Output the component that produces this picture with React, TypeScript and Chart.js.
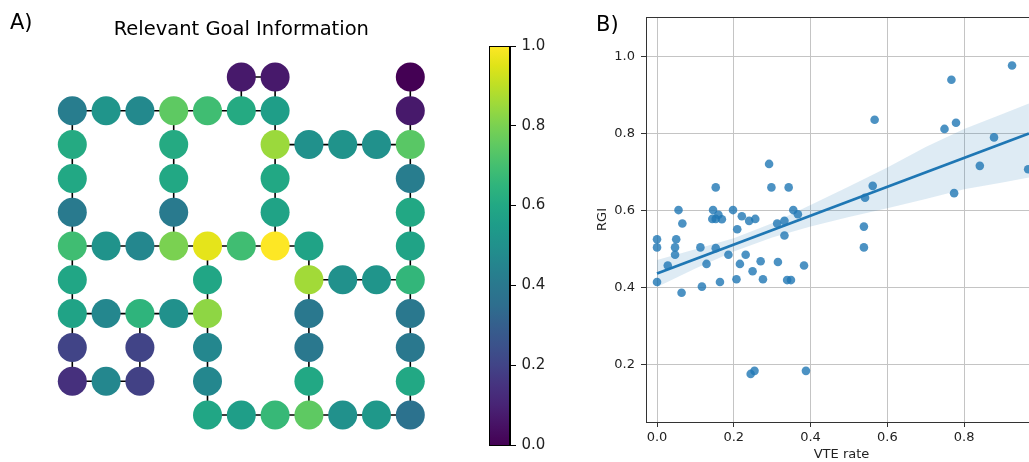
import React, { useEffect, useRef } from 'react';
import { Chart, registerables } from 'chart.js';

Chart.register(...registerables);
Chart.defaults.font.family = 'DejaVu Sans';

// ---------- Panel A: grid graph (row, column, value) ----------
const nodeRow = [
  0, 0, 0,
  1, 1, 1, 1, 1, 1, 1, 1,
  2, 2, 2, 2, 2, 2, 2,
  3, 3, 3, 3,
  4, 4, 4, 4,
  5, 5, 5, 5, 5, 5, 5, 5, 5,
  6, 6, 6, 6, 6, 6,
  7, 7, 7, 7, 7, 7, 7,
  8, 8, 8, 8, 8,
  9, 9, 9, 9, 9, 9,
  10, 10, 10, 10, 10, 10, 10,
];
const nodeCol = [
  5, 6, 10,
  0, 1, 2, 3, 4, 5, 6, 10,
  0, 3, 6, 7, 8, 9, 10,
  0, 3, 6, 10,
  0, 3, 6, 10,
  0, 1, 2, 3, 4, 5, 6, 7, 10,
  0, 4, 7, 8, 9, 10,
  0, 1, 2, 3, 4, 7, 10,
  0, 2, 4, 7, 10,
  0, 1, 2, 4, 7, 10,
  4, 5, 6, 7, 8, 9, 10,
];
const nodeValue = [
  0.07, 0.07, 0.0,
  0.42, 0.52, 0.47, 0.75, 0.69, 0.61, 0.56, 0.07,
  0.61, 0.61, 0.85, 0.5, 0.51, 0.5, 0.74,
  0.6, 0.6, 0.6, 0.42,
  0.41, 0.41, 0.58, 0.6,
  0.69, 0.51, 0.46, 0.8, 0.96, 0.69, 1.0, 0.58, 0.58,
  0.59, 0.59, 0.86, 0.5, 0.52, 0.66,
  0.58, 0.46, 0.65, 0.5, 0.83, 0.4, 0.4,
  0.2, 0.2, 0.46, 0.4, 0.4,
  0.14, 0.46, 0.19, 0.46, 0.6, 0.6,
  0.59, 0.56, 0.67, 0.75, 0.5, 0.53, 0.37,
];
const colorbarTicks = [0, 0.2, 0.4, 0.6, 0.8, 1.0];

// ---------- Panel B: scatter + regression ----------
const vteRate = [
  0.153, 0.298, 0.343, 0.056, 0.146, 0.198, 0.355, 0.160, 0.144, 0.153,
  0.169, 0.221, 0.240, 0.256, 0.367, 0.313, 0.332, 0.066, 0.209, 0.332,
  0.000, 0.000, 0.050, 0.047, 0.047, 0.113, 0.153, 0.028, 0.129, 0.186,
  0.216, 0.231, 0.270, 0.315, 0.383, 0.249, 0.000, 0.117, 0.164, 0.207,
  0.276, 0.339, 0.349, 0.064, 0.292, 0.244, 0.254, 0.388, 0.567, 0.767,
  0.925, 0.749, 0.779, 0.878, 0.841, 0.967, 0.774, 0.562, 0.542, 0.539,
  0.539,
];
const rgi = [
  0.660, 0.660, 0.660, 0.601, 0.601, 0.601, 0.601, 0.589, 0.578, 0.578,
  0.577, 0.585, 0.573, 0.578, 0.590, 0.566, 0.573, 0.566, 0.551, 0.535,
  0.525, 0.504, 0.525, 0.504, 0.485, 0.504, 0.502, 0.457, 0.461, 0.485,
  0.461, 0.485, 0.468, 0.466, 0.457, 0.442, 0.414, 0.402, 0.414, 0.421,
  0.421, 0.419, 0.419, 0.386, 0.721, 0.175, 0.183, 0.183, 0.836, 0.940,
  0.977, 0.812, 0.828, 0.790, 0.716, 0.707, 0.645, 0.664, 0.633, 0.558,
  0.504,
];
const fitX = [0, 0.969];
const fitY = [0.436, 0.800];
const bandX = [0, 0.1, 0.2, 0.3, 0.4, 0.5, 0.6, 0.7, 0.8, 0.9, 0.969];
const bandUpper = [0.471, 0.499, 0.528, 0.567, 0.614, 0.662, 0.712, 0.765, 0.812, 0.851, 0.878];
const bandLower = [0.401, 0.449, 0.493, 0.530, 0.558, 0.583, 0.606, 0.630, 0.655, 0.673, 0.686];
const xTicks = [0, 0.2, 0.4, 0.6, 0.8];
const yTicks = [0.2, 0.4, 0.6, 0.8, 1.0];

// viridis colormap stops (0..1 in steps of 0.05)
const VIRIDIS = [
  '#440154', '#471265', '#482475', '#46337f', '#414487', '#3b528b', '#355f8d',
  '#2e6e8e', '#2a788e', '#25848e', '#21918c', '#1e9c89', '#22a884', '#2fb47c',
  '#44bf70', '#5ec962', '#7ad151', '#9bd93c', '#bddf26', '#dfe318', '#fde725',
];
function hexRgb(h: string) {
  return [parseInt(h.slice(1, 3), 16), parseInt(h.slice(3, 5), 16), parseInt(h.slice(5, 7), 16)];
}
function viridis(v: number) {
  const t = Math.max(0, Math.min(1, v)) * (VIRIDIS.length - 1);
  const i = Math.min(VIRIDIS.length - 2, Math.floor(t));
  const f = t - i;
  const a = hexRgb(VIRIDIS[i]);
  const b = hexRgb(VIRIDIS[i + 1]);
  const c = a.map((x, k) => Math.round(x + (b[k] - x) * f));
  return `rgb(${c[0]},${c[1]},${c[2]})`;
}

const topSpine = {
  id: 'topSpine',
  afterDraw(chart: any) {
    const { ctx, chartArea } = chart;
    ctx.save();
    ctx.strokeStyle = '#333';
    ctx.lineWidth = 1;
    ctx.beginPath();
    ctx.moveTo(chartArea.left, Math.round(chartArea.top) + 0.5);
    ctx.lineTo(chartArea.right, Math.round(chartArea.top) + 0.5);
    ctx.stroke();
    ctx.restore();
  },
};

const colorbarPlugin = {
  id: 'colorbarFill',
  beforeDatasetsDraw(chart: any) {
    const { ctx, chartArea, scales } = chart;
    const y = scales.y;
    const g = ctx.createLinearGradient(0, y.getPixelForValue(0), 0, y.getPixelForValue(1));
    VIRIDIS.forEach((c, i) => g.addColorStop(i / (VIRIDIS.length - 1), c));
    ctx.save();
    ctx.fillStyle = g;
    ctx.fillRect(chartArea.left, chartArea.top, chartArea.right - chartArea.left, chartArea.bottom - chartArea.top);
    ctx.restore();
  },
  afterDraw(chart: any) {
    const { ctx, chartArea } = chart;
    ctx.save();
    ctx.strokeStyle = '#000';
    ctx.lineWidth = 1;
    ctx.strokeRect(
      Math.round(chartArea.left) + 0.5,
      Math.round(chartArea.top) + 0.5,
      Math.round(chartArea.right - chartArea.left) - 1,
      Math.round(chartArea.bottom - chartArea.top)
    );
    ctx.restore();
  },
};

export default function App() {
  const graphRef = useRef<HTMLCanvasElement>(null);
  const cbRef = useRef<HTMLCanvasElement>(null);
  const scRef = useRef<HTMLCanvasElement>(null);

  useEffect(() => {
    const nodes = nodeRow.map((r, i) => ({ x: nodeCol[i], y: r }));
    const colors = nodeValue.map(viridis);
    const edgeSets: any[] = [];
    for (let i = 0; i < nodes.length; i++) {
      for (let j = i + 1; j < nodes.length; j++) {
        const d = Math.abs(nodes[i].x - nodes[j].x) + Math.abs(nodes[i].y - nodes[j].y);
        if (d === 1) {
          edgeSets.push({
            type: 'scatter',
            data: [nodes[i], nodes[j]],
            showLine: true,
            borderColor: '#000',
            borderWidth: 1.6,
            pointRadius: 0,
            order: 1,
            clip: false,
          });
        }
      }
    }
    const graph = new Chart(graphRef.current!, {
      type: 'scatter',
      data: {
        datasets: [
          {
            data: nodes,
            pointRadius: 14.5,
            pointHoverRadius: 14.5,
            pointBackgroundColor: colors,
            pointBorderWidth: 0,
            borderWidth: 0,
            order: 0,
            clip: false,
          } as any,
          ...edgeSets,
        ],
      },
      options: {
        responsive: false,
        animation: false,
        events: [],
        layout: { padding: { left: 55.4, right: 42.8, top: 0, bottom: 30.1 } },
        plugins: {
          legend: { display: false },
          tooltip: { enabled: false },
          title: {
            display: true,
            text: 'Relevant Goal Information',
            color: '#000',
            font: { family: 'DejaVu Sans', size: 19.5, weight: 'normal', lineHeight: 1.2 },
            padding: { top: 18.3, bottom: 18.4 },
          },
        },
        scales: {
          x: { type: 'linear', min: -0.5, max: 10.5, display: false },
          y: { type: 'linear', min: -0.5, max: 10.5, reverse: true, display: false },
        },
      },
    });

    const cb = new Chart(cbRef.current!, {
      type: 'scatter',
      data: { datasets: [] },
      plugins: [colorbarPlugin],
      options: {
        responsive: false,
        animation: false,
        events: [],
        layout: { padding: { left: 19.3, right: 10, top: 46, bottom: 17 } },
        plugins: { legend: { display: false }, tooltip: { enabled: false } },
        scales: {
          x: { type: 'linear', min: 0, max: 1, display: false },
          y: {
            type: 'linear',
            position: 'right',
            min: 0,
            max: 1,
            afterBuildTicks: (s: any) => {
              s.ticks = colorbarTicks.map((v) => ({ value: v }));
            },
            afterFit: (s: any) => {
              s.width = 40;
            },
            ticks: {
              callback: (v: any) => Number(v).toFixed(1),
              color: '#222',
              font: { family: 'DejaVu Sans', size: 15 },
              padding: 5.5,
              autoSkip: false,
            },
            grid: { drawOnChartArea: false, drawTicks: true, tickLength: 6, tickColor: '#000' },
            border: { display: true, color: '#000', width: 1 },
          },
        },
      } as any,
    });

    const tickFont = { family: 'DejaVu Sans', size: 13 };
    const sc = new Chart(scRef.current!, {
      type: 'scatter',
      data: {
        datasets: [
          {
            type: 'line',
            data: bandX.map((x, i) => ({ x, y: bandLower[i] })),
            borderColor: 'transparent',
            borderWidth: 0,
            pointRadius: 0,
            fill: false,
            order: 2,
          } as any,
          {
            type: 'line',
            data: bandX.map((x, i) => ({ x, y: bandUpper[i] })),
            borderColor: 'transparent',
            borderWidth: 0,
            pointRadius: 0,
            fill: '-1',
            backgroundColor: 'rgba(31,119,180,0.15)',
            order: 1,
          },
          {
            type: 'scatter',
            data: vteRate.map((x, i) => ({ x, y: rgi[i] })),
            pointRadius: 4.3,
            pointHoverRadius: 4.3,
            backgroundColor: 'rgba(31,119,180,0.8)',
            pointBorderWidth: 0,
            borderWidth: 0,
            order: 3,
          },
          {
            type: 'line',
            data: fitX.map((x, i) => ({ x, y: fitY[i] })),
            borderColor: '#1f77b4',
            borderWidth: 2.8,
            pointRadius: 0,
            fill: false,
            order: 0,
          },
        ],
      },
      plugins: [topSpine],
      options: {
        responsive: false,
        animation: false,
        events: [],
        layout: { padding: { left: 0, right: 23, top: 17, bottom: 0 } },
        plugins: { legend: { display: false }, tooltip: { enabled: false } },
        scales: {
          x: {
            type: 'linear',
            min: -0.0287,
            max: 0.99,
            afterBuildTicks: (s: any) => {
              s.ticks = xTicks.map((v) => ({ value: v }));
            },
            afterFit: (s: any) => {
              s.height = 40;
            },
            ticks: {
              callback: (v: any) => Number(v).toFixed(1),
              color: '#222',
              font: tickFont,
              padding: 3,
              maxRotation: 0,
              autoSkip: false,
            },
            grid: { color: '#c4c4c4', lineWidth: 1, drawTicks: true, tickLength: 5, tickColor: '#333' },
            border: { display: true, color: '#333', width: 1 },
            title: {
              display: true,
              text: 'VTE rate',
              color: '#222',
              font: tickFont,
              padding: { top: 0, bottom: 0 },
            },
          },
          y: {
            type: 'linear',
            min: 0.05,
            max: 1.103,
            afterBuildTicks: (s: any) => {
              s.ticks = yTicks.map((v) => ({ value: v }));
            },
            afterFit: (s: any) => {
              s.width = 86;
            },
            ticks: {
              callback: (v: any) => Number(v).toFixed(1),
              color: '#222',
              font: tickFont,
              padding: 6,
              autoSkip: false,
            },
            grid: { color: '#c4c4c4', lineWidth: 1, drawTicks: true, tickLength: 5, tickColor: '#333' },
            border: { display: true, color: '#333', width: 1 },
            title: {
              display: true,
              text: 'RGI',
              color: '#222',
              font: tickFont,
              padding: { top: 35, bottom: 0 },
            },
          },
        },
      } as any,
    });

    return () => {
      graph.destroy();
      cb.destroy();
      sc.destroy();
    };
  }, []);

  const labelStyle: React.CSSProperties = {
    position: 'absolute',
    fontFamily: 'DejaVu Sans',
    fontSize: 21,
    lineHeight: '21px',
    color: '#000',
    whiteSpace: 'nowrap',
  };

  return (
    <div
      style={{
        position: 'fixed',
        left: 0,
        top: 0,
        width: 1029,
        height: 462,
        overflow: 'hidden',
        background: '#fff',
      }}
    >
      <canvas ref={graphRef} width={470} height={462} style={{ position: 'absolute', left: 0, top: 0 }} />
      <canvas ref={cbRef} width={90} height={462} style={{ position: 'absolute', left: 470, top: 0 }} />
      <canvas ref={scRef} width={500} height={462} style={{ position: 'absolute', left: 560, top: 0 }} />
      <div style={{ ...labelStyle, left: 10, top: 12 }}>A)</div>
      <div style={{ ...labelStyle, left: 596, top: 14 }}>B)</div>
    </div>
  );
}
